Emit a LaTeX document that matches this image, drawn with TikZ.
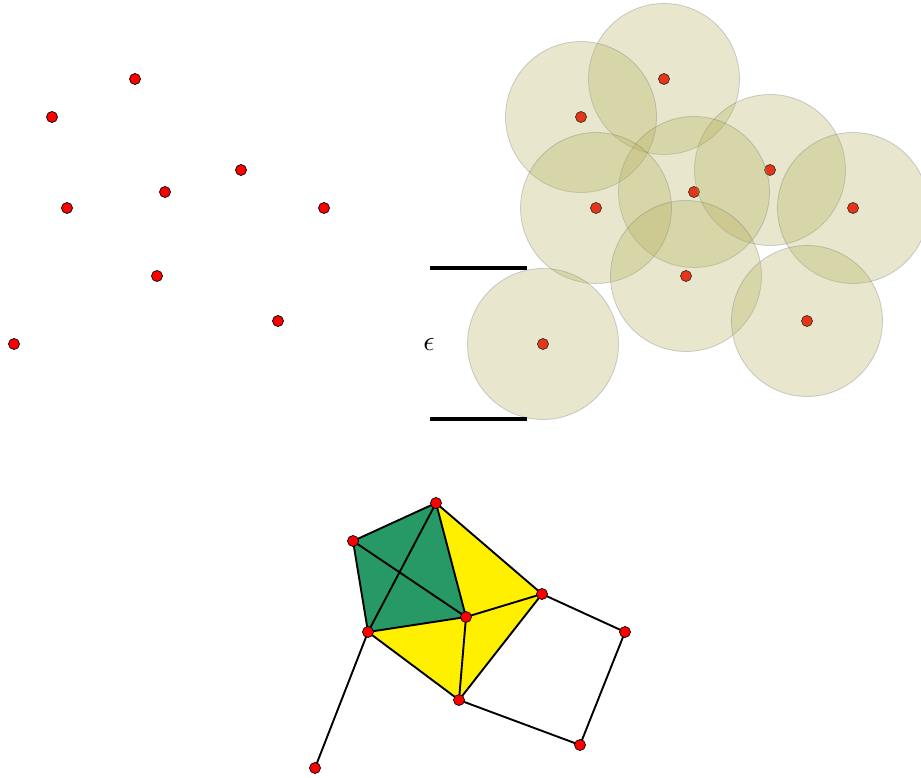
\documentclass[tikz,border=0pt]{standalone}
\usepackage{amsmath,amssymb}
\usepackage{xcolor}
\usepackage{tikz}
\usetikzlibrary{calc}

\definecolor{ballfill}{RGB}{178,175,88}
\definecolor{cplxgreen}{RGB}{38,153,102}
\definecolor{cplxyellow}{RGB}{255,240,0}

\begin{document}
\begin{tikzpicture}[x=1pt,y=-1pt,
  pt/.style={fill=red,draw=black,line width=0.7pt},
  ball/.style={fill=ballfill,fill opacity=0.3,draw=black!60,draw opacity=0.3,line width=0.8pt},
  edge/.style={line width=1.9pt,line join=round},
  bar/.style={line width=3.2pt}]
\useasboundingbox (0,0) rectangle (921,778);
\clip (0,0) rectangle (921,778);

% Point cloud
\coordinate (P1) at (135,79);
\coordinate (P2) at (52,117);
\coordinate (P3) at (241,170);
\coordinate (P4) at (165,192);
\coordinate (P5) at (67,208);
\coordinate (P6) at (324,208);
\coordinate (P7) at (157,276);
\coordinate (P8) at (278,321);
\coordinate (P9) at (14,344);

\foreach \i in {1,...,9} {
  \draw[pt] (P\i) circle (5.5pt);
  \draw[pt] ($(P\i)+(529,0)$) circle (5.5pt);
}
% Balls of radius epsilon
\foreach \i in {1,...,9}
  \draw[ball] ($(P\i)+(529,0)$) circle (75.5pt);

% Scale bar
\coordinate (E1) at (430,268);
\coordinate (E2) at (527,268);
\coordinate (E3) at (430,419);
\coordinate (E4) at (527,419);
\draw[bar] (E1) -- (E2);
\draw[bar] (E3) -- (E4);
\node[scale=2.8] (eps) at (429,344) {$\epsilon$};

% Simplicial complex
\coordinate (V1) at (436,503);
\coordinate (V2) at (353,541);
\coordinate (V3) at (542,594);
\coordinate (V4) at (466,617);
\coordinate (V5) at (368,632);
\coordinate (V6) at (625,632);
\coordinate (V7) at (459,700);
\coordinate (V8) at (580,745);
\coordinate (V9) at (315,768);

\fill[cplxgreen] (V1) -- (V2) -- (V5) -- (V4) -- cycle;
\fill[cplxyellow] (V1) -- (V4) -- (V3) -- cycle;
\fill[cplxyellow] (V4) -- (V3) -- (V7) -- cycle;
\fill[cplxyellow] (V5) -- (V4) -- (V7) -- cycle;

\draw[edge] (V1) -- (V2) -- (V5) -- (V4) -- cycle;
\draw[edge] (V1) -- (V5);
\draw[edge] (V2) -- (V4);
\draw[edge] (V1) -- (V3) -- (V4) -- (V7) -- (V5);
\draw[edge] (V3) -- (V7);
\draw[edge] (V3) -- (V6) -- (V8) -- (V7);
\draw[edge] (V5) -- (V9);

\foreach \i in {1,...,9}
  \draw[pt] (V\i) circle (5.5pt);
\end{tikzpicture}
\end{document}
